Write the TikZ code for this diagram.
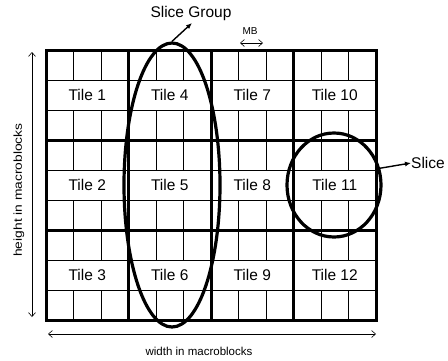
\documentclass[tikz,border=0pt]{standalone}
\usepackage{fontspec}
\setmainfont{Liberation Sans}
\usetikzlibrary{shapes.geometric,arrows.meta,calc}
\begin{document}
\begin{tikzpicture}[x=1pt,y=-1pt,
  thinline/.style={line width=0.9pt},
  thickline/.style={line width=3pt},
  tilelabel/.style={font=\fontsize{15.5}{15.5}\selectfont, inner sep=1pt},
  dimarrow/.style={line width=0.6pt, {Straight Barb[length=4pt,width=7pt]}-{Straight Barb[length=4pt,width=7pt]}},
  ptrarrow/.style={line width=1.4pt, -{Latex[length=6pt,width=5pt]}},
  ring/.style={draw, ellipse, line width=3.2pt, inner sep=0pt},
  smalltext/.style={font=\fontsize{11.5}{12}\selectfont, inner sep=0pt},
  bigtext/.style={font=\fontsize{15.5}{16}\selectfont, inner sep=0pt}
]
\useasboundingbox (0,0) rectangle (448,360);

% thin horizontal lines
\foreach \y in {80,110,170,200,260,290}
  \draw[thinline] (46,\y) -- (376,\y);
% thin vertical lines (top and bottom thirds of each tile row)
\foreach \x in {73.5,101,156,183.5,238.5,266,321,348.5}
  \foreach \ya/\yb in {50/80,110/140,140/170,200/230,230/260,290/320}
    \draw[thinline] (\x,\ya) -- (\x,\yb);

% thick tile borders
\draw[thickline] (46,50) rectangle (376,320);
\foreach \x in {128.5,211,293.5}
  \draw[thickline] (\x,50) -- (\x,320);
\foreach \y in {140,230}
  \draw[thickline] (46,\y) -- (376,\y);

% tile labels
\node[tilelabel] (t1) at (87.25,95) {Tile 1};
\node[tilelabel] (t2) at (87.25,185) {Tile 2};
\node[tilelabel, fill=white] (t3) at (87.25,275) {Tile 3};
\node[tilelabel] (t4) at (169.75,95) {Tile 4};
\node[tilelabel] (t5) at (169.75,185) {Tile 5};
\node[tilelabel] (t6) at (169.75,275) {Tile 6};
\node[tilelabel] (t7) at (252.25,95) {Tile 7};
\node[tilelabel] (t8) at (252.25,185) {Tile 8};
\node[tilelabel] (t9) at (252.25,275) {Tile 9};
\node[tilelabel] (t10) at (334.75,95) {Tile 10};
\node[tilelabel] (t11) at (334.75,185) {Tile 11};
\node[tilelabel] (t12) at (334.75,275) {Tile 12};

% slice group ellipse and slice circle
\node[ring, minimum width=96pt, minimum height=284pt] (sg) at (172,185) {};
\node[ring, minimum width=94pt, minimum height=104pt] (sl) at (334,185) {};

% labels with pointers
\node[bigtext] (sglab) at (191,13) {Slice Group};
\coordinate (sgtip) at (192,23);
\draw[ptrarrow] (sg.north) -- (sgtip);
\node[bigtext, anchor=west] (sllab) at (411,163) {Slice};
\draw[ptrarrow] (sl.20) -- (sllab.west);

% MB indicator
\node[font=\fontsize{10}{10}\selectfont, inner sep=0pt] (mb) at (250,31) {MB};
\coordinate (mba) at (240,43);
\coordinate (mbb) at (263,43);
\draw[dimarrow] (mba) -- (mbb);

% dimension arrows
\coordinate (ha) at (32,52);
\coordinate (hb) at (32,317);
\draw[dimarrow] (ha) -- (hb);
\node[smalltext, rotate=90] (hlab) at (19,190) {\scalebox{1.2}[1]{height in macroblocks}};
\coordinate (wa) at (48,334);
\coordinate (wb) at (376,334);
\draw[dimarrow] (wa) -- (wb);
\node[smalltext] (wlab) at (199,351) {width in macroblocks};
\end{tikzpicture}
\end{document}
